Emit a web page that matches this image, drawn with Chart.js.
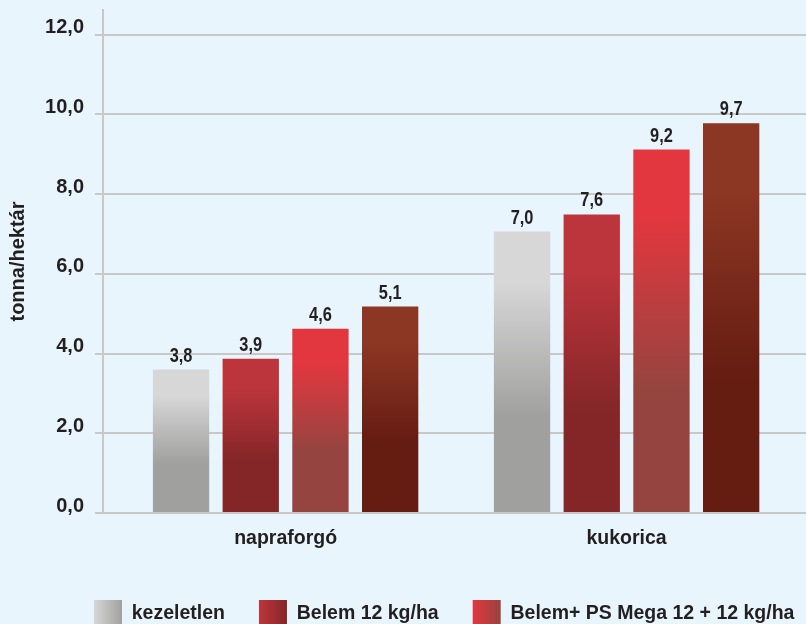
<!DOCTYPE html>
<html>
<head>
<meta charset="utf-8">
<script src="https://cdn.jsdelivr.net/npm/chart.js@4/dist/chart.umd.min.js"></script>
<style>
  html, body { margin: 0; padding: 0; background: #e8f5fd; overflow: hidden; }
</style>
</head>
<body>
<canvas id="chart" width="806" height="624"></canvas>
<script>
// categories on the x axis
const categories = ['napraforgó', 'kukorica'];
const seriesNames = ['kezeletlen', 'Belem 12 kg/ha', 'Belem+ PS Mega 12 + 12 kg/ha', '4. kezelés'];

// bar heights as drawn (tonna/hektár)
const kezeletlen = [3.6, 7.06];
const belem = [3.87, 7.49];
const belemPsMega = [4.62, 9.12];
const negyedik = [5.18, 9.78];

// printed value labels above the bars
const kezeletlenText = ['3,8', '7,0'];
const belemText = ['3,9', '7,6'];
const belemPsMegaText = ['4,6', '9,2'];
const negyedikText = ['5,1', '9,7'];

const yTicks = [0, 2, 4, 6, 8, 10, 12];

const seriesValues = [kezeletlen, belem, belemPsMega, negyedik];
const seriesText = [kezeletlenText, belemText, belemPsMegaText, negyedikText];
const topColors = ['#d7d7d7', '#bd353c', '#e3373f', '#8c3624'];
const bottomColors = ['#a0a09f', '#842628', '#96443f', '#651c11'];

const FONT = "'Liberation Sans', Arial, sans-serif";
const TEXT = '#231f20';
const GRID = '#c8c8c8';

Chart.defaults.font.family = FONT;
Chart.defaults.font.weight = 'bold';
Chart.defaults.color = TEXT;

function barGradient(i) {
  return (c) => {
    const chart = c.chart;
    if (c.type !== 'data' || !chart.chartArea) return bottomColors[i];
    const y = chart.scales.y;
    const top = y.getPixelForValue(c.raw.y);
    const base = y.getPixelForValue(0);
    const g = chart.ctx.createLinearGradient(0, top, 0, base);
    g.addColorStop(0, topColors[i]);
    g.addColorStop(0.18, topColors[i]);
    g.addColorStop(0.66, bottomColors[i]);
    g.addColorStop(1, bottomColors[i]);
    return g;
  };
}

const legendShift = 60;

const extras = {
  id: 'extras',
  afterLayout(chart) {
    // legend starts further right in the original, its last entry runs off the page
    chart.legend.left += legendShift;
    chart.legend.right += legendShift;
  },
  beforeDraw(chart) {
    const ctx = chart.ctx;
    ctx.save();
    ctx.fillStyle = '#e8f5fd';
    ctx.fillRect(0, 0, chart.width, chart.height);
    ctx.restore();
    const legend = chart.legend;
    legend.legendItems.forEach((item, k) => {
      const hb = legend.legendHitBoxes[k];
      if (!hb) return;
      const i = item.datasetIndex;
      const g = ctx.createLinearGradient(hb.left, 0, hb.left + 28, 0);
      g.addColorStop(0, topColors[i]);
      g.addColorStop(1, bottomColors[i]);
      item.fillStyle = g;
    });
  },
  afterDatasetsDraw(chart) {
    const ctx = chart.ctx;
    chart.data.datasets.forEach((ds, i) => {
      chart.getDatasetMeta(i).data.forEach((bar, j) => {
        // narrow the label glyphs like the condensed face of the original
        ctx.save();
        ctx.font = 'bold 21px ' + FONT;
        ctx.fillStyle = TEXT;
        ctx.textAlign = 'center';
        ctx.textBaseline = 'alphabetic';
        ctx.translate(bar.x, bar.y - 8);
        ctx.scale(0.78, 1);
        ctx.fillText(seriesText[i][j], 0, 0);
        ctx.restore();
      });
    });
  }
};

new Chart(document.getElementById('chart'), {
  type: 'bar',
  data: {
    datasets: seriesNames.map((name, i) => ({
      label: name,
      data: seriesValues[i].map((v, j) => ({ x: j, y: v })),
      backgroundColor: barGradient(i),
      borderWidth: 0,
      categoryPercentage: 0.8176,
      barPercentage: 0.808,
    })),
  },
  options: {
    responsive: false,
    animation: false,
    devicePixelRatio: 1,
    layout: { padding: { top: 10, left: 0, right: 0, bottom: -14 } },
    plugins: {
      tooltip: { enabled: false },
      legend: {
        position: 'bottom',
        align: 'start',
        labels: {
          boxWidth: 28,
          boxHeight: 28,
          padding: 34,
          color: TEXT,
          font: { size: 19.5, weight: 'bold' },
          filter: (item) => item.datasetIndex < 3,
        },
      },
    },
    scales: {
      x: {
        type: 'linear',
        offset: false,
        min: -0.5355,
        max: 1.5261,
        grid: { display: false, drawTicks: false },
        border: { display: false },
        afterBuildTicks: (scale) => { scale.ticks = categories.map((c, j) => ({ value: j })); },
        afterFit: (scale) => { scale.height = 53; scale.paddingLeft = 0; scale.paddingRight = 0; },
        ticks: {
          padding: 14,
          maxRotation: 0,
          font: { size: 19.5, weight: 'bold' },
          color: TEXT,
          callback: (v) => categories[v],
        },
      },
      y: {
        min: 0,
        max: 12.62,
        afterBuildTicks: (scale) => { scale.ticks = yTicks.map((v) => ({ value: v })); },
        afterFit: (scale) => { scale.width = 103; scale.paddingTop = 0; scale.paddingBottom = 0; },
        grid: { color: GRID, lineWidth: 2, tickLength: 8 },
        border: { color: GRID, width: 2 },
        ticks: {
          padding: 11,
          color: TEXT,
          font: { size: 20, weight: 'bold', lineHeight: '14px' },
          callback: (v) => [v.toFixed(1).replace('.', ','), ''],
        },
        title: {
          display: true,
          text: 'tonna/hektár',
          color: TEXT,
          font: { size: 20, weight: 'bold' },
          padding: { top: 6, bottom: 0 },
        },
      },
    },
  },
  plugins: [extras],
});
</script>
</body>
</html>
